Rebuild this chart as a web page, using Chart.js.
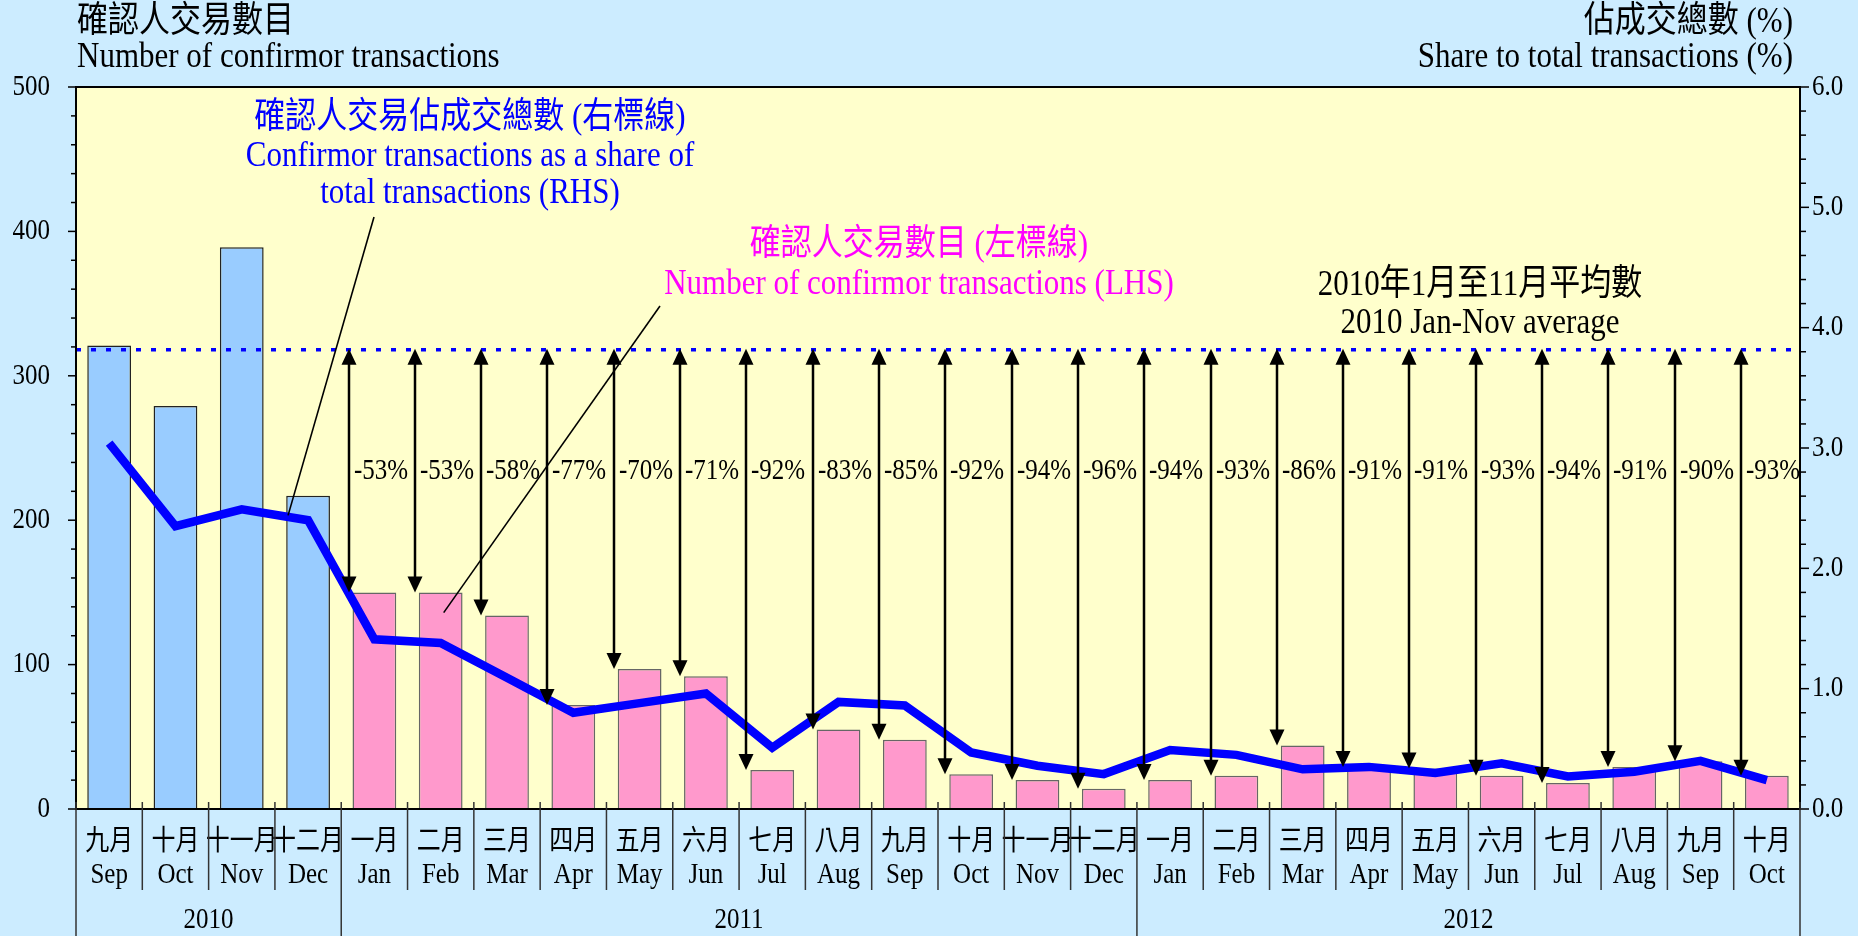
<!DOCTYPE html>
<html>
<head>
<meta charset="utf-8">
<script src="https://cdn.jsdelivr.net/npm/chart.js@4.4.0/dist/chart.umd.min.js"></script>
<style>
  html, body { margin: 0; padding: 0; background: #ccecff; overflow: hidden; }
  canvas { display: block; }
</style>
</head>
<body>
<canvas id="chart" width="1858" height="936"></canvas>
<script>
// month labels, Sep 2010 .. Oct 2012
const monthsCn = ['九月', '十月', '十一月', '十二月', '一月', '二月', '三月', '四月', '五月', '六月', '七月', '八月',
  '九月', '十月', '十一月', '十二月', '一月', '二月', '三月', '四月', '五月', '六月', '七月', '八月', '九月', '十月'];
const monthsEn = ['Sep', 'Oct', 'Nov', 'Dec', 'Jan', 'Feb', 'Mar', 'Apr', 'May', 'Jun', 'Jul', 'Aug',
  'Sep', 'Oct', 'Nov', 'Dec', 'Jan', 'Feb', 'Mar', 'Apr', 'May', 'Jun', 'Jul', 'Aug', 'Sep', 'Oct'];
const yearLabels = ['2010', '2011', '2012'];
const yearMonthCounts = [4, 12, 10];

// number of confirmor transactions (LHS)
const transactions = [321, 279, 389, 217, 150, 150, 134, 72, 97, 92, 27, 55,
  48, 24, 20, 14, 20, 23, 44, 29, 28, 23, 18, 29, 33, 23];
// share of total transactions, % (RHS)
const sharePct = [3.04, 2.35, 2.49, 2.40, 1.41, 1.38, 1.09, 0.80, 0.88, 0.96, 0.51, 0.89,
  0.86, 0.47, 0.36, 0.29, 0.49, 0.45, 0.33, 0.35, 0.30, 0.38, 0.27, 0.31, 0.40, 0.24];
// 2010 Jan-Nov average and change against it
const avg2010 = 318;
const changeLabels = ['', '', '', '', '-53%', '-53%', '-58%', '-77%', '-70%', '-71%', '-92%', '-83%',
  '-85%', '-92%', '-94%', '-96%', '-94%', '-93%', '-86%', '-91%', '-91%', '-93%', '-94%', '-91%', '-90%', '-93%'];

const SERIF = '"Liberation Serif", "Noto Sans CJK TC", serif';
const SY = 1.18; // text in the original is a bit taller than wide

function seg(ctx, x1, y1, x2, y2) {
  ctx.beginPath();
  ctx.moveTo(x1, y1);
  ctx.lineTo(x2, y2);
  ctx.stroke();
}

function txt(ctx, s, x, y, align, size, color) {
  ctx.save();
  ctx.translate(x, y);
  ctx.scale(1, SY);
  ctx.font = size + 'px ' + SERIF;
  ctx.fillStyle = color || '#000';
  ctx.textAlign = align;
  ctx.textBaseline = 'middle';
  ctx.fillText(s, 0, 0);
  ctx.restore();
}

function head(ctx, x, tipY, dir) {
  // dir -1 = pointing up, 1 = pointing down
  ctx.beginPath();
  ctx.moveTo(x, tipY);
  ctx.lineTo(x - 7.5, tipY - dir * 16);
  ctx.lineTo(x + 7.5, tipY - dir * 16);
  ctx.closePath();
  ctx.fill();
}

const decor = {
  id: 'decor',
  beforeDraw(chart) {
    const { ctx, chartArea: a } = chart;
    ctx.save();
    ctx.fillStyle = '#ccecff';
    ctx.fillRect(0, 0, chart.width, chart.height);
    ctx.fillStyle = '#ffffcc';
    ctx.fillRect(a.left, a.top, a.right - a.left, a.bottom - a.top);
    ctx.restore();
  },
  afterDatasetsDraw(chart) {
    const { ctx, chartArea: a, scales: { y } } = chart;
    const bars = chart.getDatasetMeta(1).data;
    const yAvg = y.getPixelForValue(avg2010);
    ctx.save();

    // dotted average line
    ctx.strokeStyle = '#0000ff';
    ctx.lineWidth = 3.5;
    ctx.setLineDash([5, 10]);
    seg(ctx, a.left, yAvg, a.right, yAvg);
    ctx.setLineDash([]);

    // double arrows + change labels
    ctx.strokeStyle = '#000';
    ctx.fillStyle = '#000';
    ctx.lineWidth = 2.5;
    const labelY = y.getPixelForValue(234);
    changeLabels.forEach((lab, i) => {
      if (!lab) return;
      const b = bars[i];
      const ax = Math.round(b.x - b.width / 2 - 4);
      seg(ctx, ax, yAvg + 10, ax, b.y - 10);
      head(ctx, ax, yAvg - 1, -1);
      head(ctx, ax, b.y, 1);
      txt(ctx, lab, ax + 5, labelY, 'left', 25);
    });
    ctx.restore();
  },
  afterDraw(chart) {
    const { ctx, chartArea: a, scales: { x, y, y1 } } = chart;
    ctx.save();

    // plot frame
    ctx.strokeStyle = '#000';
    ctx.lineWidth = 2;
    ctx.strokeRect(a.left, a.top, a.right - a.left, a.bottom - a.top);

    // y tick marks (major + minor) and labels
    ctx.lineWidth = 1.5;
    for (let v = 0; v <= 500; v += 20) {
      const py = y.getPixelForValue(v);
      seg(ctx, a.left - (v % 100 === 0 ? 8 : 5), py, a.left, py);
    }
    for (let k = 0; k <= 30; k++) {
      const py = y1.getPixelForValue(k / 5);
      seg(ctx, a.right, py, a.right + (k % 5 === 0 ? 9 : 6), py);
    }
    y.ticks.forEach(t => txt(ctx, String(t.value), a.left - 26, y.getPixelForValue(t.value), 'right', 25));
    y1.ticks.forEach(t => txt(ctx, t.value.toFixed(1), a.right + 12, y1.getPixelForValue(t.value), 'left', 25));

    // category labels and separators under the axis
    x.ticks.forEach((t, i) => {
      const px = x.getPixelForValue(i);
      txt(ctx, monthsCn[i], px, a.bottom + 34, 'center', 24);
      txt(ctx, monthsEn[i], px, a.bottom + 66, 'center', 25);
    });
    const step = x.getPixelForValue(1) - x.getPixelForValue(0);
    const yearEdges = [0];
    yearMonthCounts.forEach(c => yearEdges.push(yearEdges[yearEdges.length - 1] + c));
    ctx.strokeStyle = '#333';
    ctx.lineWidth = 1.5;
    for (let i = 0; i <= monthsEn.length; i++) {
      const px = x.getPixelForValue(i) - step / 2;
      const isYear = yearEdges.includes(i);
      seg(ctx, px, a.bottom - 7, px, isYear ? chart.height : 890);
    }
    yearLabels.forEach((yl, k) => {
      const cx = (x.getPixelForValue(yearEdges[k]) + x.getPixelForValue(yearEdges[k + 1] - 1)) / 2;
      txt(ctx, yl, cx, 920, 'center', 25);
    });

    // axis titles
    txt(ctx, '確認人交易數目', 77, 22, 'left', 31);
    txt(ctx, 'Number of confirmor transactions', 77, 57, 'left', 31);
    txt(ctx, '佔成交總數 (%)', 1793, 22, 'right', 31);
    txt(ctx, 'Share to total transactions (%)', 1793, 57, 'right', 31);

    // annotations
    txt(ctx, '確認人交易佔成交總數 (右標線)', 470, 118, 'center', 31, '#0000ff');
    txt(ctx, 'Confirmor transactions as a share of', 470, 156, 'center', 31, '#0000ff');
    txt(ctx, 'total transactions (RHS)', 470, 193, 'center', 31, '#0000ff');
    txt(ctx, '確認人交易數目 (左標線)', 919, 245, 'center', 31, '#ff00ff');
    txt(ctx, 'Number of confirmor transactions (LHS)', 919, 284, 'center', 31, '#ff00ff');
    txt(ctx, '2010年1月至11月平均數', 1480, 285, 'center', 31);
    txt(ctx, '2010 Jan-Nov average', 1480, 323, 'center', 31);

    // leader lines
    ctx.strokeStyle = '#000';
    ctx.lineWidth = 1.6;
    seg(ctx, 374, 217, x.getPixelForValue(3) - 20, y1.getPixelForValue(2.44));
    seg(ctx, 660, 306, x.getPixelForValue(5) + 3, y.getPixelForValue(136));
    ctx.restore();
  }
};

new Chart(document.getElementById('chart'), {
  type: 'bar',
  data: {
    labels: monthsCn.map((c, i) => [c, monthsEn[i]]),
    datasets: [
      {
        type: 'line',
        label: 'Share',
        data: sharePct,
        yAxisID: 'y1',
        borderColor: '#0000ff',
        borderWidth: 8.5,
        pointRadius: 0,
        tension: 0,
        order: 0,
      },
      {
        label: 'Transactions',
        data: transactions,
        yAxisID: 'y',
        backgroundColor: transactions.map((v, i) => i < yearMonthCounts[0] ? '#99ccff' : '#ff99cc'),
        borderColor: transactions.map((v, i) => i < yearMonthCounts[0] ? '#222' : '#666'),
        borderWidth: 1.5,
        barPercentage: 0.66,
        categoryPercentage: 1,
        order: 1,
      },
    ],
  },
  options: {
    responsive: false,
    devicePixelRatio: 1,
    animation: false,
    layout: { padding: { top: 87, left: 0, right: 0, bottom: 0 } },
    plugins: { legend: { display: false }, tooltip: { enabled: false } },
    scales: {
      x: {
        offset: true,
        grid: { display: false, drawTicks: false },
        border: { display: false },
        ticks: { display: false, autoSkip: false },
        afterFit(s) { s.height = 127; },
      },
      y: {
        position: 'left',
        min: 0, max: 500,
        grid: { display: false, drawTicks: false },
        border: { display: false },
        ticks: { display: false, stepSize: 100 },
        afterFit(s) { s.width = 76; },
      },
      y1: {
        position: 'right',
        min: 0, max: 6,
        grid: { display: false, drawTicks: false },
        border: { display: false },
        ticks: { display: false, stepSize: 1 },
        afterFit(s) { s.width = 58; },
      },
    },
  },
  plugins: [decor],
});
</script>
</body>
</html>
